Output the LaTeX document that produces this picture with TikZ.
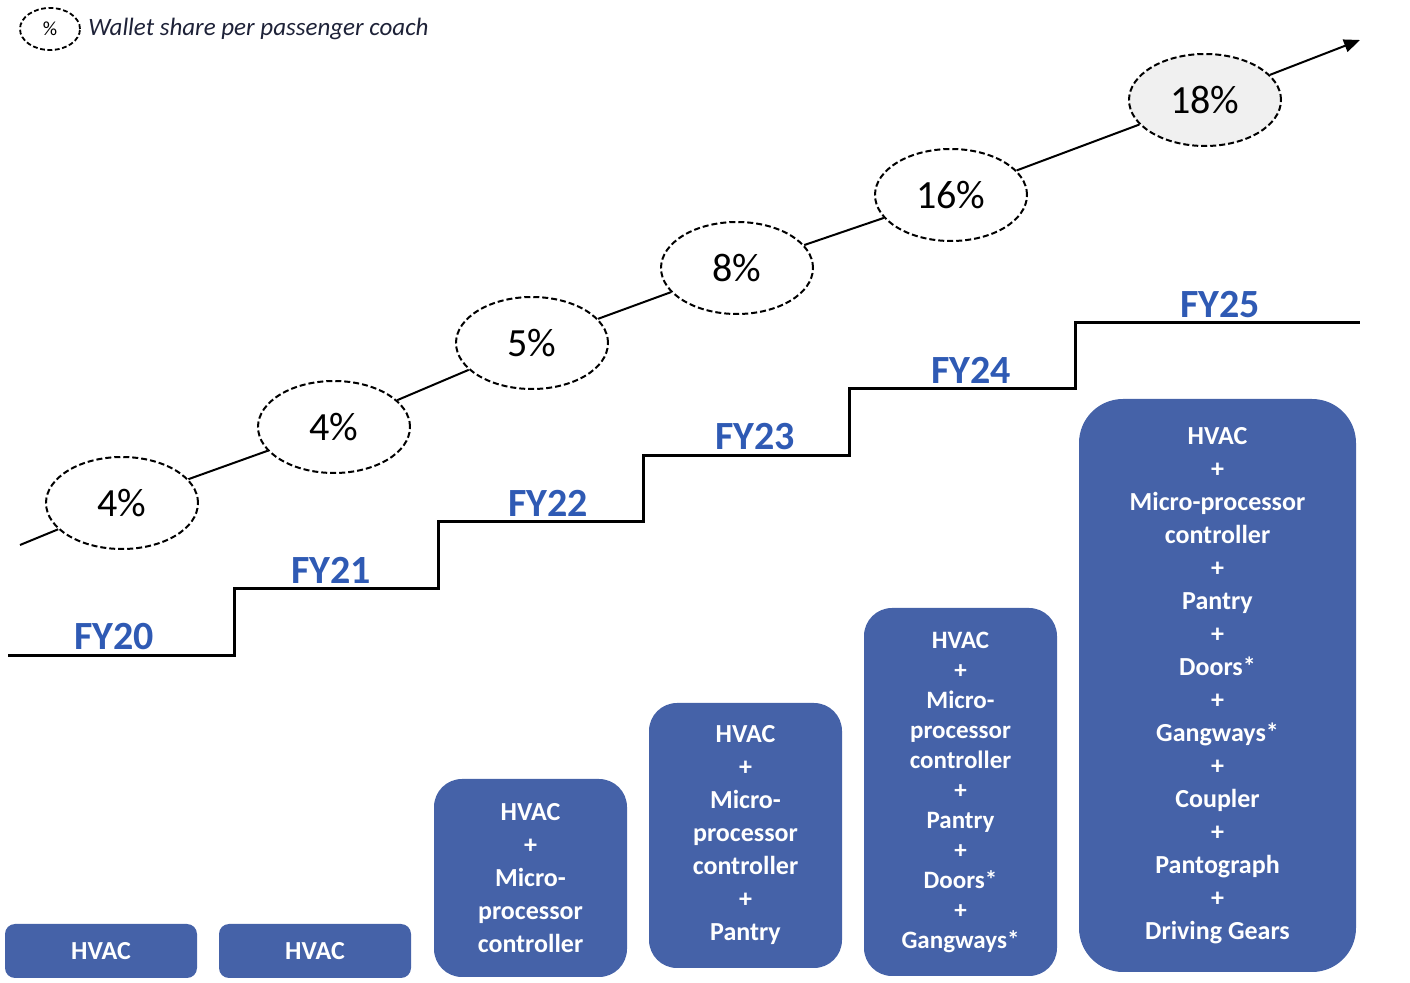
\documentclass[tikz,border=0pt]{standalone}
\usepackage{fontspec}
\setmainfont{Carlito}
\usetikzlibrary{shapes.geometric,arrows.meta}
\definecolor{boxblue}{RGB}{69,98,168}
\definecolor{fyblue}{RGB}{47,90,180}
\definecolor{legendink}{RGB}{30,34,56}
\begin{document}
\begin{tikzpicture}[x=0.5pt,y=-0.5pt,
		share/.style={ellipse,draw,dash pattern=on 3pt off 1.5pt,line width=1pt,minimum width=76pt,minimum height=46pt,inner sep=0pt,fill=white,font=\fontsize{20}{24}\selectfont},
		fy/.style={anchor=base,text=fyblue,font=\bfseries\fontsize{20}{24}\selectfont},
		box/.style={fill=boxblue,rounded corners=14pt,text=white,align=center,inner sep=0pt,font=\bfseries\fontsize{13}{16.5}\selectfont}]
				\useasboundingbox (0,0) rectangle (1410,983);
				\node[ellipse,draw,dash pattern=on 2.4pt off 1.3pt,line width=0.9pt,minimum width=30pt,minimum height=21pt,inner sep=0pt,font=\fontsize{10}{12}\selectfont] (key) at (50,29) {\%};
				\node[anchor=west,inner sep=0pt,text=legendink,font=\itshape\fontsize{12.5}{15}\selectfont] (keytext) at (88,29) {Wallet share per passenger coach};
				\draw[line width=1.5pt] (8,656) -| (234,589) -| (438,522) -| (643,456) -| (849,389) -| (1075,323) -- (1360,323);
				\foreach \yr/\xc/\yc in {20/114/650,21/331/584,22/548/517,23/755/450,24/971/384,25/1220/318} \node[fy] (fy\yr) at (\xc,\yc) {FY\yr};
				\coordinate (start) at (20,545);
				\coordinate (tip) at (1360,40);
				\foreach \nm/\xc/\yc/\val in {p20/122/503/4,p21/334/427/4,p22/532/343/5,p23/737/268/8,p24/951/195/16} \node[share] (\nm) at (\xc,\yc) {\val\%};
				\node[share,fill=black!6] (p25) at (1205,100) {18\%};
				\draw[line width=1pt] (start) -- (p20) -- (p21) -- (p22) -- (p23) -- (p24) -- (p25);
				\draw[line width=1pt,-{Triangle[length=8pt,width=6.5pt]}] (p25) -- (tip);
				\node[box,rounded corners=5pt,minimum width=96pt,minimum height=27pt] (c20) at (101,951) {HVAC};
				\node[box,rounded corners=5pt,minimum width=96pt,minimum height=27pt] (c21) at (315,951) {HVAC};
				\node[box,minimum width=96.5pt,minimum height=99pt] (c22) at (530.5,878) {HVAC\\+\\Micro-\\processor\\controller};
				\node[box,minimum width=96.5pt,minimum height=132.5pt] (c23) at (745.5,835.5) {HVAC\\+\\Micro-\\processor\\controller\\+\\Pantry};
				\node[box,minimum width=96.5pt,minimum height=184pt,font=\bfseries\fontsize{12.5}{15}\selectfont] (c24) at (960.5,792) {HVAC\\+\\Micro-\\processor\\controller\\+\\Pantry\\+\\Doors*\\+\\Gangways*};
				\node[box,rounded corners=22pt,minimum width=138.5pt,minimum height=286.5pt] (c25) at (1217.5,685.5) {HVAC\\+\\Micro-processor\\controller\\+\\Pantry\\+\\Doors*\\+\\Gangways*\\+\\Coupler\\+\\Pantograph\\+\\Driving Gears};
			\end{tikzpicture}
\end{document}
